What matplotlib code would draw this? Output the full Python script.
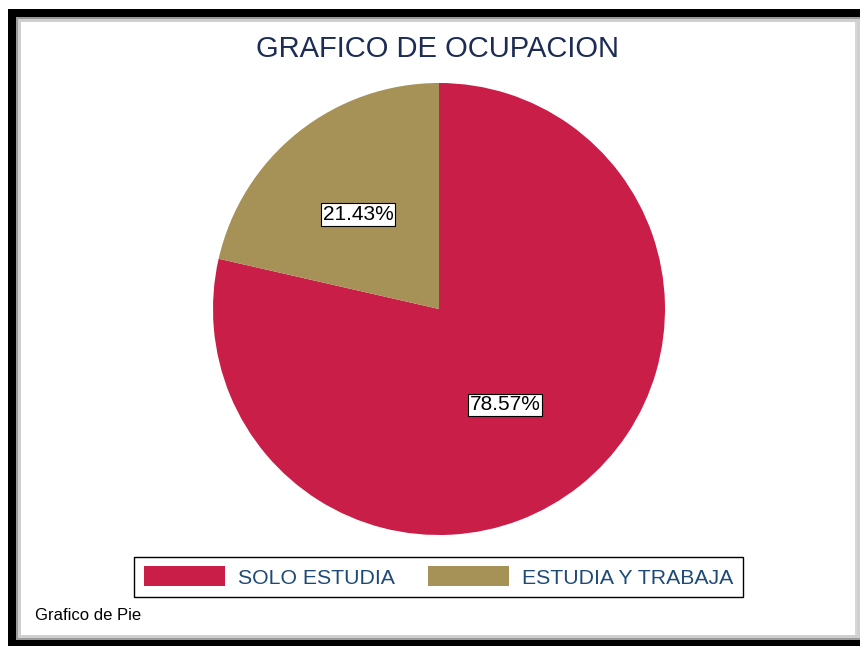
import matplotlib
matplotlib.use("Agg")
import matplotlib.pyplot as plt
from matplotlib.patches import Rectangle, Patch
import numpy as np

plt.rcParams['font.family'] = ['Liberation Sans', 'DejaVu Sans']

# data
categories = ["SOLO ESTUDIA", "ESTUDIA Y TRABAJA"]
shares = [78.57, 21.43]
colors = ["#C81E47", "#A69257"]

W, H = 860, 646
fig = plt.figure(figsize=(W / 100, H / 100), dpi=100)
fig.patch.set_facecolor("white")

def px_rect(x0, y0, x1, y1, color):
    # pixel coords from top-left -> figure fraction
    fig.add_artist(Rectangle((x0 / W, 1 - y1 / H), (x1 - x0) / W, (y1 - y0) / H,
                             transform=fig.transFigure, facecolor=color,
                             edgecolor="none", zorder=0))

# outer black frame + gray shadow + white panel
px_rect(8, 9, 880, 660, "black")
px_rect(16, 17, 880, 640, "#9a9a9a")
px_rect(18, 19, 880, 638, "#cfcfcf")
px_rect(21, 22, 855, 635, "white")
px_rect(855, 22, 857, 635, "#d8d8d8")

# pie axes: center (439, 309), radius 226 px
cx, cy, r = 439, 309, 226
ax = fig.add_axes([(cx - r) / W, 1 - (cy + r) / H, 2 * r / W, 2 * r / H])
wedges, texts, autotexts = ax.pie(shares, colors=colors, startangle=90, counterclock=False,
                                  autopct="%.2f%%", pctdistance=0.54, radius=1,
                                  textprops=dict(fontsize=15, color="black"))
# stata puts the labels a little off the wedge middle
lab_dist = [0.515, 0.55]
lab_shift = [-4, 2]
for w, t, d, s in zip(wedges, autotexts, lab_dist, lab_shift):
    ang = np.deg2rad((w.theta1 + w.theta2) / 2 + s)
    t.set_position((d * np.cos(ang), d * np.sin(ang)))
    t.set_bbox(dict(boxstyle="square,pad=0.08", facecolor="white", edgecolor="black", linewidth=0.8))
ax.set_xlim(-1, 1)
ax.set_ylim(-1, 1)
ax.set_aspect("equal")
ax.axis("off")

fig.text(438 / W, 1 - 49 / H, "GRAFICO DE OCUPACION", ha="center", va="center",
         fontsize=21, color="#1c2c54")

handles = [Patch(facecolor=c, edgecolor="none") for c in colors]
leg = fig.legend(handles, categories, ncol=2, loc="center", bbox_to_anchor=(438.5 / W, 1 - 577 / H),
                 fontsize=15.3, handlelength=3.8, handleheight=1.05, handletextpad=0.62,
                 columnspacing=1.55, borderpad=0.45, fancybox=False, framealpha=1,
                 edgecolor="black")
leg.get_frame().set_linewidth(1.0)
for t in leg.get_texts():
    t.set_color("#1e4a78")

fig.text(35 / W, 1 - 615 / H, "Grafico de Pie", ha="left", va="center", fontsize=12, color="black")

fig.savefig("out.png", dpi=100)
